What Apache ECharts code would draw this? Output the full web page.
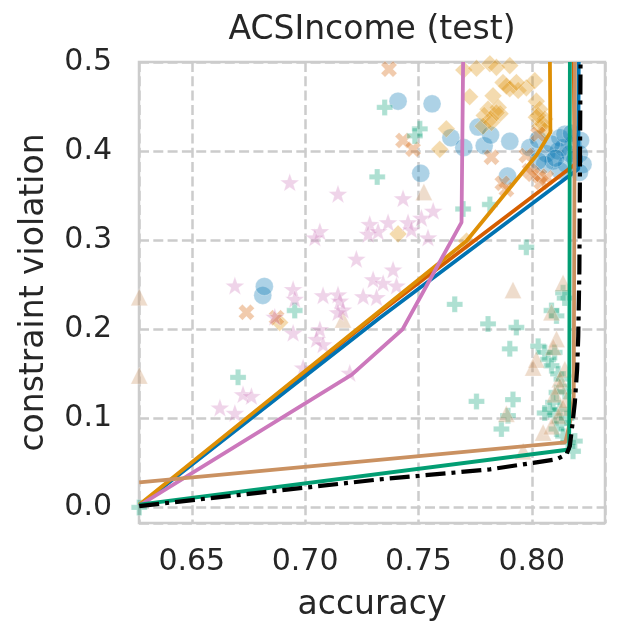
<!DOCTYPE html>
<html lang="en">
<head>
    <meta charset="UTF-8">
    <title>ACSIncome (test)</title>
    <script src="https://cdn.jsdelivr.net/npm/echarts@6/dist/echarts.min.js"></script>
</head>
<body style="margin:0">
<div id="myChart" style="width: 624px;height: 644px;"></div>
<script>
    // [accuracy, constraint violation]
    var circlePts = [[0.6813,0.238],[0.682,0.248],[0.741,0.456],[0.756,0.453],[0.751,0.375],[0.7643,0.415],[0.770,0.404],
        [0.7763,0.427],[0.779,0.406],[0.7818,0.418],[0.7903,0.411],[0.7893,0.372],[0.7991,0.404],[0.8028,0.413],[0.8065,0.397],
        [0.8094,0.389],[0.8124,0.415],[0.8116,0.400],[0.8153,0.385],[0.8124,0.378],[0.8182,0.408],[0.821,0.397],[0.8226,0.385],
        [0.821,0.376],[0.8057,0.385],[0.8168,0.397],[0.8138,0.404],[0.8087,0.408],[0.8146,0.419],[0.819,0.391],[0.8028,0.389],
        [0.8175,0.420],[0.8105,0.392],[0.8215,0.412]];
    var diamondPts = [[0.7623,0.425],[0.7594,0.402],[0.7726,0.461],[0.770,0.491],[0.7756,0.493],[0.7815,0.498],[0.7844,0.494],
        [0.7903,0.496],[0.7873,0.477],[0.7903,0.470],[0.794,0.468],[0.7976,0.471],[0.8013,0.479],[0.7829,0.462],[0.7852,0.449],
        [0.7807,0.447],[0.779,0.440],[0.7818,0.436],[0.786,0.442],[0.7785,0.428],[0.802,0.456],[0.8035,0.447],[0.802,0.438],
        [0.8057,0.436],[0.8035,0.428],[0.805,0.430],[0.8057,0.423],[0.8028,0.440],[0.741,0.307],[0.7712,0.299],[0.6888,0.2075],
        [0.7888,0.473],[0.7932,0.477],[0.7822,0.432],[0.7844,0.443]];
    var crossPts = [[0.737,0.492],[0.7432,0.412],[0.7476,0.402],[0.7822,0.393],[0.7888,0.357],[0.787,0.364],[0.7976,0.395],
        [0.8028,0.419],[0.8035,0.372],[0.8006,0.374],[0.8065,0.370],[0.8042,0.365],[0.799,0.378],[0.6741,0.219],[0.6874,0.213]];
    var plusPts = [[0.7351,0.449],[0.7506,0.425],[0.7484,0.417],[0.7318,0.371],[0.7697,0.335],[0.7815,0.340],[0.7976,0.292],
        [0.6954,0.221],[0.6704,0.146],[0.766,0.228],[0.7807,0.206],[0.7932,0.202],[0.7903,0.178],[0.7756,0.119],[0.7917,0.121],
        [0.7866,0.088],[0.7895,0.103],[0.8028,0.181],[0.8057,0.174],[0.8072,0.166],[0.8087,0.159],[0.8101,0.174],[0.8109,0.215],
        [0.8087,0.221],[0.8138,0.241],[0.8145,0.235],[0.8131,0.144],[0.8109,0.129],[0.8094,0.118],[0.8124,0.110],[0.8101,0.103],
        [0.8131,0.095],[0.8109,0.088],[0.8138,0.080],[0.808,0.110],[0.8057,0.106],[0.816,0.073],[0.819,0.0745],[0.8182,0.063],
        [0.8116,0.150],[0.8146,0.130],[0.8153,0.100],[0.6268,0.0]];
    var trianglePts = [[0.6268,0.236],[0.6268,0.148],[0.7167,0.211],[0.7524,0.354],[0.7917,0.244],[0.8087,0.219],[0.8109,0.189],
        [0.802,0.166],[0.8006,0.157],[0.8124,0.144],[0.8124,0.136],[0.8101,0.127],[0.8153,0.121],[0.805,0.084],[0.7962,0.063],
        [0.8146,0.155],[0.8116,0.103],[0.8087,0.091],[0.8138,0.252],[0.7888,0.105],[0.8095,0.180],[0.8138,0.112]];
    var starPts = [[0.6932,0.365],[0.7145,0.352],[0.7065,0.310],[0.7043,0.303],[0.7285,0.318],[0.7278,0.307],[0.7322,0.310],
        [0.7366,0.320],[0.7432,0.347],[0.7454,0.320],[0.7469,0.312],[0.7513,0.325],[0.7565,0.333],[0.7542,0.303],[0.7226,0.279],
        [0.7388,0.267],[0.730,0.256],[0.7344,0.252],[0.7256,0.237],[0.7315,0.236],[0.7145,0.239],[0.7153,0.232],[0.7167,0.222],
        [0.7079,0.238],[0.6947,0.245],[0.6954,0.234],[0.6866,0.214],[0.669,0.249],[0.6947,0.196],[0.7065,0.200],[0.705,0.189],
        [0.7079,0.183],[0.6991,0.157],[0.6726,0.127],[0.6763,0.125],[0.6624,0.112],[0.669,0.106],[0.7197,0.151],[0.7145,0.219],
        [0.7403,0.249]];

    // frontier lines
    var blueLine = [[0.6268,0.002],[0.733,0.213],[0.8205,0.380],[0.8207,0.5]];
    var redLine = [[0.6268,0.002],[0.733,0.219],[0.819,0.385],[0.8185,0.5]];
    var orangeLine = [[0.6268,0.003],[0.7712,0.299],[0.802,0.395],[0.8082,0.421],[0.808,0.5]];
    var greenLine = [[0.6268,0.003],[0.8165,0.065],[0.8168,0.5]];
    var pinkLine = [[0.6268,0.002],[0.7206,0.149],[0.743,0.2],[0.769,0.32],[0.7697,0.5]];
    var brownLine = [[0.6268,0.028],[0.8148,0.073],[0.8175,0.103],[0.8185,0.125],[0.819,0.5]];
    var blackLine = [[0.6268,0.0015],[0.7329,0.0315],[0.7815,0.0427],[0.8006,0.050],[0.811,0.054],[0.8153,0.0596],
        [0.8168,0.069],[0.818,0.095],[0.819,0.118],[0.820,0.155],[0.8205,0.192],[0.821,0.267],[0.8215,0.5]];

    var plusPath = 'path://M-1,-3H1V-1H3V1H1V3H-1V1H-3V-1H-1Z';
    var starPath = 'path://M0,-10L2.35,-3.24L9.51,-3.09L3.8,1.24L5.88,8.09L0,4L-5.88,8.09L-3.8,1.24L-9.51,-3.09L-2.35,-3.24Z';
    var txt = '#262626';

    function dots(data, color, symbol, size, rotate) {
        return {
            type: 'scatter', data: data, symbol: symbol, symbolSize: size, symbolRotate: rotate || 0,
            symbolKeepAspect: true, silent: true, clip: true,
            itemStyle: {color: color, opacity: 0.32, borderColor: '#ffffff', borderWidth: 0.8}
        };
    }
    function line(data, color, width, dash) {
        return {
            type: 'line', data: data, showSymbol: false, silent: true,
            lineStyle: {color: color, width: width, type: dash || 'solid', cap: 'butt'}
        };
    }

    var myChart = echarts.init(document.getElementById('myChart'));
    var option = {
        animation: false,
        title: {
            text: 'ACSIncome (test)', left: 372, top: 14, textAlign: 'center', padding: 0,
            textStyle: {fontFamily: 'DejaVu Sans', fontSize: 33, fontWeight: 'normal', color: txt}
        },
        grid: {
            left: 139, right: 19, top: 62, bottom: 121,
            show: true, borderColor: '#cccccc', borderWidth: 2.5
        },
        xAxis: {
            type: 'value', min: 0.6267, max: 0.8323,
            name: 'accuracy', nameLocation: 'middle', nameGap: 66,
            nameTextStyle: {fontFamily: 'DejaVu Sans', fontSize: 33, color: txt},
            axisLine: {show: false}, axisTick: {show: false},
            axisLabel: {
                fontFamily: 'DejaVu Sans', fontSize: 30, color: txt, margin: 24,
                formatter: function (v) {
                    return Math.abs(v * 20 - Math.round(v * 20)) < 1e-6 ? v.toFixed(2) : '';
                }
            },
            splitLine: {lineStyle: {color: '#cccccc', width: 2.5, type: [10, 4.3]}}
        },
        yAxis: {
            type: 'value', min: -0.0175, max: 0.5,
            name: 'constraint violation', nameLocation: 'middle', nameGap: 88,
            nameTextStyle: {fontFamily: 'DejaVu Sans', fontSize: 33, color: txt},
            axisLine: {show: false}, axisTick: {show: false},
            axisLabel: {
                fontFamily: 'DejaVu Sans', fontSize: 30, color: txt, margin: 27,
                formatter: function (v) {
                    return Math.abs(v * 10 - Math.round(v * 10)) < 1e-6 ? v.toFixed(1) : '';
                }
            },
            splitLine: {lineStyle: {color: '#cccccc', width: 2.5, type: [10, 4.3]}}
        },
        series: [
            dots(circlePts, '#0173b2', 'circle', 18),
            dots(diamondPts, '#de8f05', 'rect', 12.5, 45),
            dots(crossPts, '#d55e00', plusPath, 17, 45),
            dots(plusPts, '#029e73', plusPath, 16),
            dots(trianglePts, '#ca9161', 'triangle', 17),
            dots(starPts, '#cc78bc', starPath, 19),
            line(redLine, '#d55e00', 3.8),
            line(blueLine, '#0173b2', 3.8),
            line(orangeLine, '#de8f05', 3.8),
            line(pinkLine, '#cc78bc', 3.8),
            line(brownLine, '#ca9161', 3.8),
            line(greenLine, '#029e73', 3.8),
            line(blackLine, '#000000', 4.2, [20, 6, 4, 6])
        ]
    };
    myChart.setOption(option);
</script>
</body>
</html>
